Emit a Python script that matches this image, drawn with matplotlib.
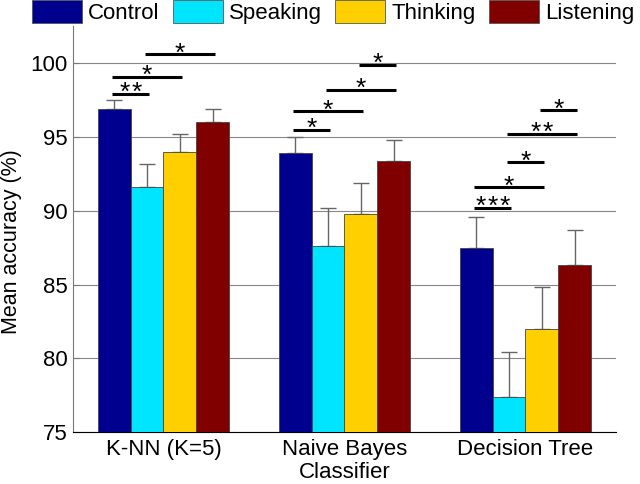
import numpy as np
import matplotlib
matplotlib.use('Agg')
import matplotlib.pyplot as plt

plt.rcParams['font.family'] = ['Liberation Sans', 'DejaVu Sans']

classifiers = ['K-NN (K=5)', 'Naive Bayes\nClassifier', 'Decision Tree']
conditions = ['Control', 'Speaking', 'Thinking', 'Listening']
colors = ['#00008F', '#00E5FF', '#FFCF00', '#800000']

# mean accuracy per classifier (rows) and condition (cols)
means = np.array([[96.9, 91.6, 94.0, 96.0],
                  [93.9, 87.6, 89.8, 93.4],
                  [87.5, 77.4, 82.0, 86.3]])
# upper error bar length
errs = np.array([[0.6, 1.6, 1.2, 0.9],
                 [1.1, 2.6, 2.1, 1.4],
                 [2.1, 3.0, 2.8, 2.4]])

# significance: (classifier, cond_a, cond_b, height, number of stars)
sig = [(0, 0, 1, 97.95, 2), (0, 0, 2, 99.1, 1), (0, 1, 3, 100.6, 1),
       (1, 0, 1, 95.5, 1), (1, 0, 2, 96.75, 1), (1, 1, 3, 98.2, 1), (1, 2, 3, 99.9, 1),
       (2, 0, 1, 90.2, 3), (2, 0, 2, 91.6, 1), (2, 1, 2, 93.3, 1),
       (2, 1, 3, 95.2, 2), (2, 2, 3, 96.8, 1)]

fig = plt.figure(figsize=(6.4, 4.84), dpi=100)
ax = fig.add_axes([0.114, 0.1074, 0.8485, 0.838])

x = np.arange(1, 4)
w = 0.182
for j, cond in enumerate(conditions):
    pos = x + (j - 1.5) * w
    ax.bar(pos, means[:, j], w, color=colors[j], edgecolor='#444444', linewidth=0.6,
           label=cond, zorder=3)
    ax.errorbar(pos, means[:, j], yerr=[np.zeros(3), errs[:, j]], fmt='none',
                ecolor='#666666', elinewidth=1, capsize=5.5, capthick=1, zorder=2)

for c, a, b, h, n in sig:
    xa = c + 1 + (a - 1.5) * w - 0.01
    xb = c + 1 + (b - 1.5) * w + 0.01
    ax.plot([xa, xb], [h, h], color='black', lw=2.2, solid_capstyle='butt', zorder=4)
    for k in range(n):
        ax.annotate('*', ((xa + xb) / 2, h), xytext=((k - (n - 1) / 2) * 8.5, -4.5),
                    textcoords='offset points', ha='center', va='baseline',
                    fontsize=19, zorder=4)

ax.set_xlim(0.5, 3.5)
ax.set_ylim(75, 102.5)
ax.set_yticks([75, 80, 85, 90, 95, 100])
ax.set_xticks(x)
ax.set_xticklabels(classifiers, fontsize=16, linespacing=1.12)
ax.tick_params(axis='y', labelsize=16, direction='in', length=4, color='#777777', pad=4)
ax.tick_params(axis='x', length=0, pad=5)
ax.yaxis.grid(True, color='#888888', lw=0.8, zorder=0)
ax.set_axisbelow(True)
ax.spines['top'].set_visible(False)
ax.spines['right'].set_visible(False)
ax.spines['left'].set_color('#777777')
ax.spines['bottom'].set_color('black')
ax.set_ylabel('Mean accuracy (%)', fontsize=15.5)
ax.yaxis.set_label_coords(-0.094, 0.47)

leg = fig.legend(loc='upper left', bbox_to_anchor=(0.05, 1.0), ncol=4, frameon=False,
                 fontsize=16, handlelength=2.25, handleheight=1.2, handletextpad=0.27,
                 columnspacing=0.6, borderaxespad=0, borderpad=0)
for p in leg.get_patches():
    p.set_edgecolor('#555555')

fig.savefig('out.png', dpi=100)
